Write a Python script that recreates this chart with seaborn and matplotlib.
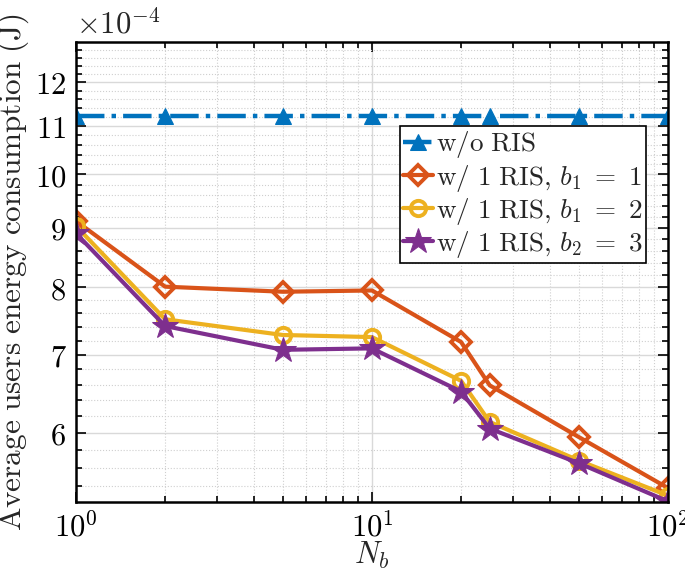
import numpy as np
import pandas as pd
import matplotlib
matplotlib.use("Agg")
import matplotlib.pyplot as plt
from matplotlib.ticker import FixedLocator, FuncFormatter, NullFormatter
import seaborn as sns

# data (energy in 1e-4 J)
n_b = [1, 2, 5, 10, 20, 25, 50, 100]
e_no_ris = [11.22, 11.22, 11.22, 11.22, 11.22, 11.22, 11.22, 11.22]
e_b1 = [9.12, 8.01, 7.93, 7.95, 7.18, 6.59, 5.95, 5.38]
e_b2 = [9.03, 7.51, 7.28, 7.25, 6.65, 6.13, 5.68, 5.30]
e_b3 = [8.90, 7.41, 7.07, 7.09, 6.51, 6.05, 5.65, 5.24]
labels = [r'$\mathrm{w/o\ RIS}$',
          r'$\mathrm{w/\ 1\ RIS,}\,b_1\ =\ 1$',
          r'$\mathrm{w/\ 1\ RIS,}\,b_1\ =\ 2$',
          r'$\mathrm{w/\ 1\ RIS,}\,b_2\ =\ 3$']
y_major = [6, 7, 8, 9, 10, 11, 12]

sns.set_theme(style="ticks")
plt.rcParams['mathtext.fontset'] = 'cm'
plt.rcParams['font.family'] = ['DejaVu Serif']

fig = plt.figure(figsize=(6.85, 5.72), dpi=100)
ax = fig.add_axes([0.111, 0.1224, 0.864, 0.8033])
ax.set_xscale('log')
ax.set_yscale('log')

scale = 1e-4
sns.lineplot(x=n_b, y=np.array(e_no_ris) * scale, ax=ax, color='#0072BD', linestyle='-.',
             linewidth=3.2, marker='^', markersize=12, mfc='#0072BD', mec='#0072BD',
             estimator=None, label=labels[0])
sns.lineplot(x=n_b, y=np.array(e_b1) * scale, ax=ax, color='#D95319', linewidth=3,
             marker='D', markersize=10, mfc='none', mec='#D95319', mew=2.8,
             estimator=None, label=labels[1])
sns.lineplot(x=n_b, y=np.array(e_b2) * scale, ax=ax, color='#EDB120', linewidth=3,
             marker='o', markersize=11, mfc='none', mec='#EDB120', mew=2.8,
             estimator=None, label=labels[2])
sns.lineplot(x=n_b, y=np.array(e_b3) * scale, ax=ax, color='#7E2F8E', linewidth=3,
             marker='*', markersize=19, mfc='#7E2F8E', mec='#7E2F8E',
             estimator=None, label=labels[3])

ax.set_xlim(1, 100)
ax.set_ylim(5.233e-4, 12.98e-4)

ax.yaxis.set_major_locator(FixedLocator(np.array(y_major) * scale))
ax.yaxis.set_minor_locator(FixedLocator(np.arange(5.4, 13.0, 0.2) * scale))
ax.yaxis.set_major_formatter(FuncFormatter(lambda v, p: r'$%d$' % round(v / scale)))
ax.yaxis.set_minor_formatter(NullFormatter())
ax.xaxis.set_major_formatter(FuncFormatter(lambda v, p: r'$10^{%d}$' % round(np.log10(v))))

ax.grid(True, which='major', color='#d9d9d9', linewidth=1.0, linestyle='-')
ax.grid(True, which='minor', color='#cfcfcf', linewidth=0.8, linestyle=':')
ax.set_axisbelow(True)

for s in ax.spines.values():
    s.set_linewidth(1.8)
    s.set_color('black')
    s.set_visible(True)
ax.tick_params(which='both', direction='in', top=True, right=True, width=1.2, colors='black')
ax.tick_params(which='major', length=7, labelsize=22, pad=7)
ax.tick_params(which='minor', length=4)

ax.set_xlabel(r'$N_b$', fontsize=22, labelpad=-2)
ax.set_ylabel(r'$\mathrm{Average\ users\ energy\ consumption\ (J)}$', fontsize=22.5, labelpad=3)
ax.text(0.0, 1.005, r'$\times 10^{-4}$', transform=ax.transAxes, fontsize=22,
        ha='left', va='bottom')

leg = ax.legend(loc='upper right', bbox_to_anchor=(0.963, 0.818), fontsize=19.5,
                frameon=True, fancybox=False, edgecolor='black', framealpha=1,
                handlelength=1.1, handletextpad=0.1, borderpad=0.12, labelspacing=0.08,
                borderaxespad=0)
leg.get_frame().set_linewidth(1.2)

fig.savefig('out.png', dpi=100)
